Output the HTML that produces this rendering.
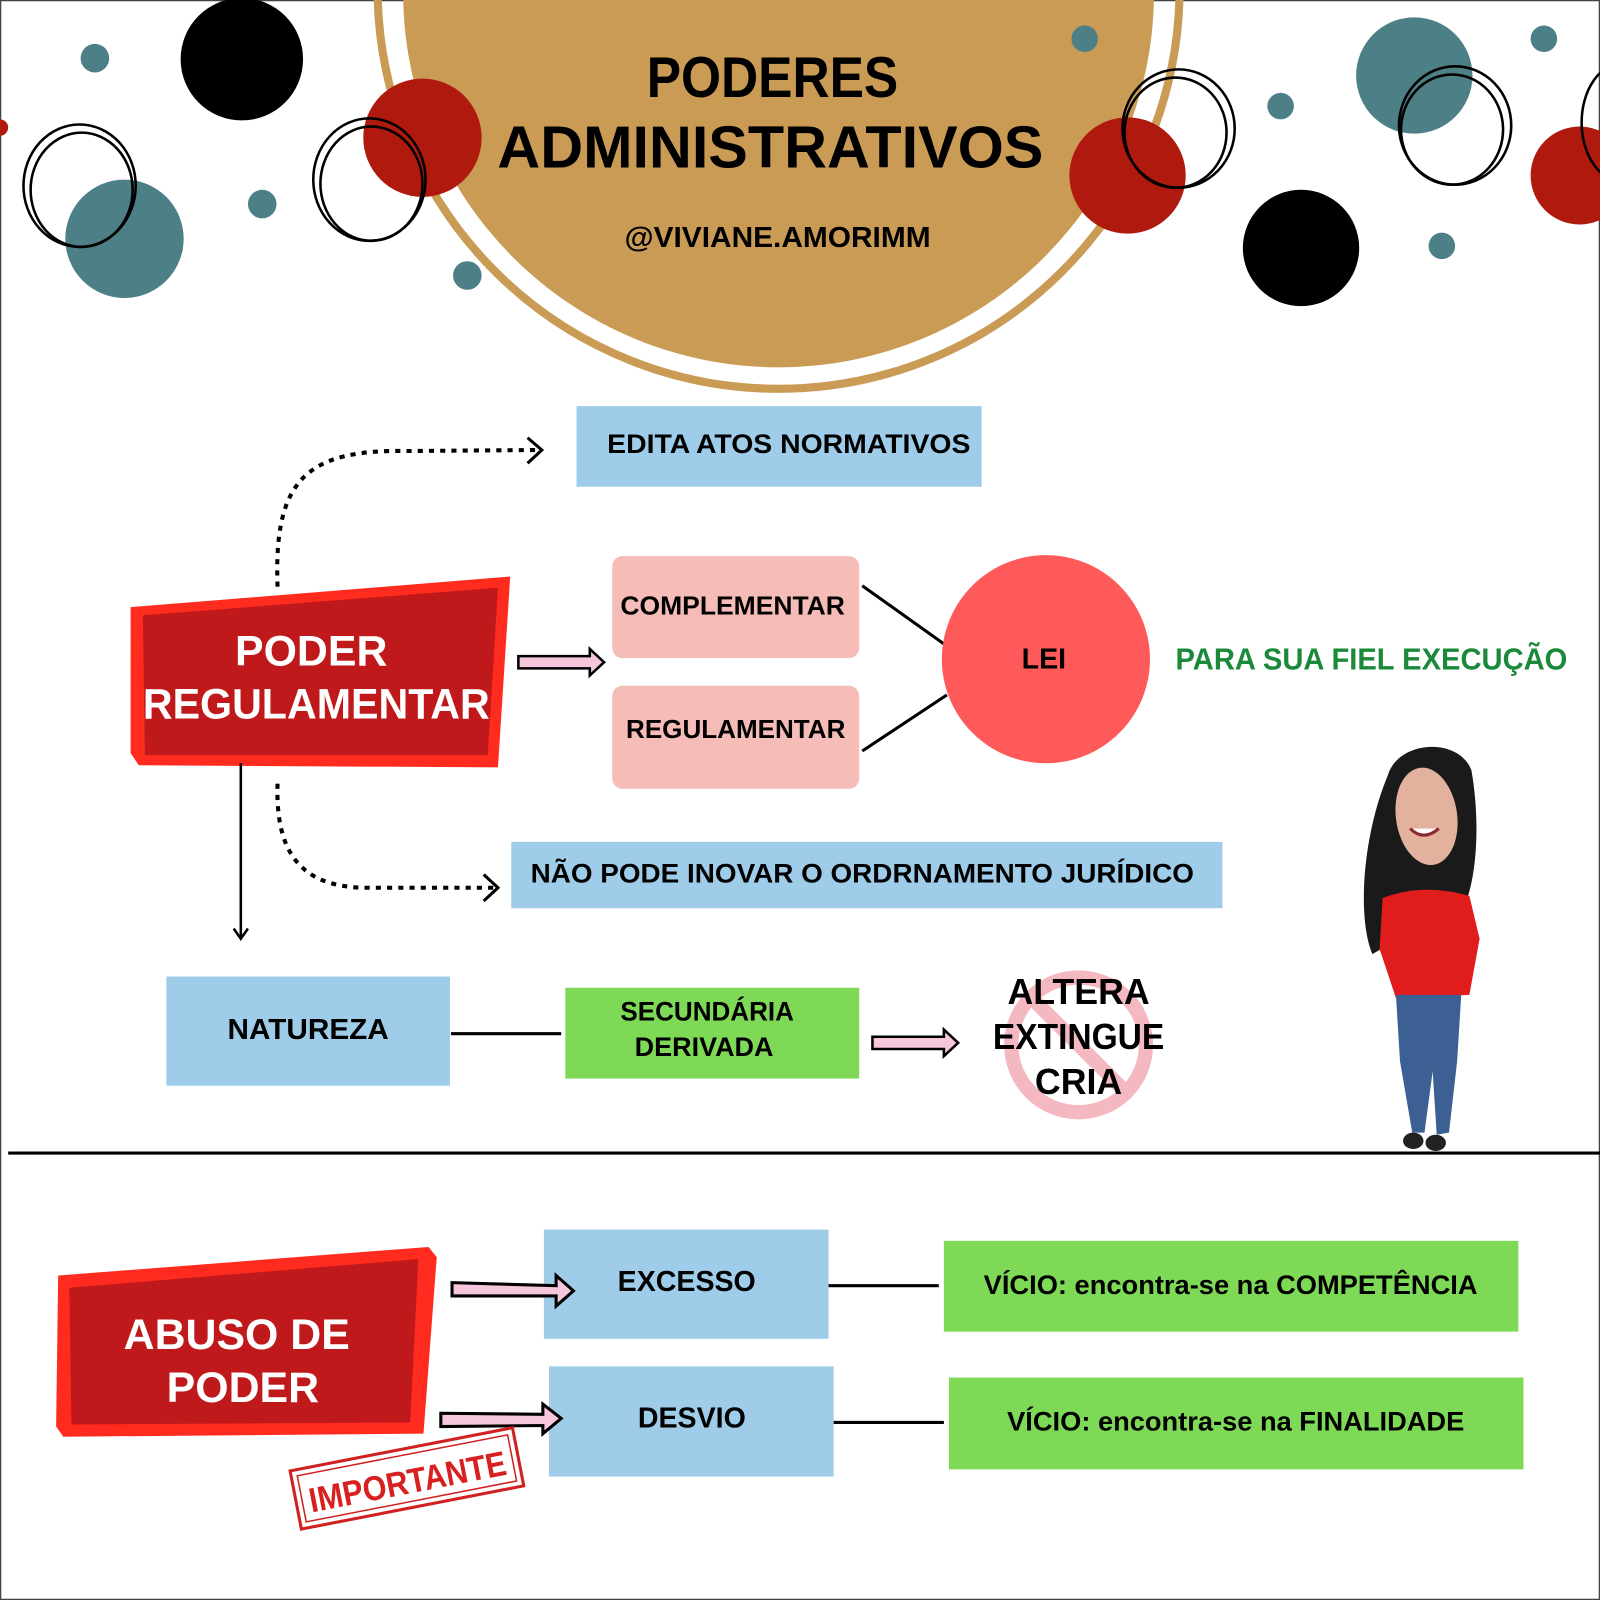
<!DOCTYPE html>
<html><head><meta charset="utf-8"><style>
html,body{margin:0;padding:0;background:#fff}
svg{display:block}
text{font-family:"Liberation Sans",sans-serif;font-weight:bold}
</style></head><body>
<svg width="1600" height="1600" viewBox="0 0 1568 1568" xmlns="http://www.w3.org/2000/svg">
<rect x="0" y="0" width="1568" height="1568" fill="#fff"/>
<rect x="0.5" y="0.5" width="1567" height="1567" fill="none" stroke="#444" stroke-width="1.5"/>
<!-- header -->
<circle cx="763" cy="-12" r="393" fill="none" stroke="#c99b55" stroke-width="8"/>
<circle cx="763" cy="-8" r="368" fill="#c99b55"/>
<!-- decorations -->
<g fill="#4d7f87">
<circle cx="93" cy="57" r="14"/><circle cx="257" cy="200" r="14"/><circle cx="458" cy="270" r="14"/>
<circle cx="1063" cy="38" r="13"/><circle cx="1255" cy="104" r="13"/><circle cx="1513" cy="38" r="13"/><circle cx="1413" cy="241" r="13"/>
<circle cx="122" cy="234" r="58"/><circle cx="1386" cy="74" r="57"/>
</g>
<circle cx="237" cy="58" r="60" fill="#000"/><circle cx="1275" cy="243" r="57" fill="#000"/>
<g fill="#b0190e">
<circle cx="414" cy="135" r="58"/><circle cx="1105" cy="172" r="57"/><circle cx="1548" cy="172" r="48"/><circle cx="0" cy="125" r="8"/>
</g>
<g fill="none" stroke="#000" stroke-width="2.5">
<ellipse cx="78" cy="182" rx="55" ry="60"/><ellipse cx="80" cy="186" rx="50" ry="56"/>
<ellipse cx="362" cy="176" rx="55" ry="60"/><ellipse cx="364" cy="180" rx="50" ry="56"/>
<ellipse cx="1155" cy="126" rx="55" ry="58"/><ellipse cx="1152" cy="130" rx="50" ry="54"/>
<ellipse cx="1426" cy="123" rx="55" ry="58"/><ellipse cx="1423" cy="127" rx="50" ry="54"/>
<ellipse cx="1590" cy="120" rx="40" ry="58"/>
</g>
<text x="757" y="95" font-size="56" text-anchor="middle" transform="translate(757 0) scale(0.9 1) translate(-757 0)">PODERES</text>
<text x="755" y="164" font-size="58" text-anchor="middle" textLength="535" lengthAdjust="spacingAndGlyphs">ADMINISTRATIVOS</text>
<text x="762" y="242" font-size="28" text-anchor="middle" textLength="300" lengthAdjust="spacingAndGlyphs">@VIVIANE.AMORIMM</text>

<!-- boxes -->
<rect x="565" y="398" width="397" height="79" fill="#9fcde9"/>
<text x="773" y="444" font-size="26" text-anchor="middle" textLength="356" lengthAdjust="spacingAndGlyphs">EDITA ATOS NORMATIVOS</text>
<path d="M272 575 C268 470 300 440 400 442 L528 441" fill="none" stroke="#000" stroke-width="4" stroke-dasharray="5 6"/>
<path d="M517 429 L531 441 L517 454" fill="none" stroke="#000" stroke-width="3"/>

<polygon points="128,595 500,565 488,752 136,750 128,738" fill="#ff2b1f"/>
<polygon points="140,603 488,576 478,740 142,740" fill="#c0191b"/>
<text x="305" y="652" font-size="42" fill="#fff" text-anchor="middle">PODER</text>
<text x="310" y="704" font-size="42" fill="#fff" text-anchor="middle" textLength="340" lengthAdjust="spacingAndGlyphs">REGULAMENTAR</text>

<g id="pa">
<polygon points="508,643 578,643 578,636 592,649 578,662 578,655 508,655" fill="#f6c6dc" stroke="#000" stroke-width="2.5"/>
</g>

<rect x="600" y="545" width="242" height="100" rx="10" fill="#f5bcb8"/>
<rect x="600" y="672" width="242" height="101" rx="10" fill="#f5bcb8"/>
<text x="718" y="602" font-size="25" text-anchor="middle" textLength="220" lengthAdjust="spacingAndGlyphs">COMPLEMENTAR</text>
<text x="721" y="723" font-size="25" text-anchor="middle" textLength="215" lengthAdjust="spacingAndGlyphs">REGULAMENTAR</text>
<line x1="845" y1="574" x2="925" y2="631" stroke="#000" stroke-width="3"/>
<line x1="845" y1="736" x2="928" y2="681" stroke="#000" stroke-width="3"/>
<circle cx="1025" cy="646" r="102" fill="#ff5a5a"/>
<text x="1023" y="655" font-size="28" text-anchor="middle">LEI</text>
<text x="1344" y="656" font-size="30" fill="#1a8a3a" text-anchor="middle" textLength="384" lengthAdjust="spacingAndGlyphs">PARA SUA FIEL EXECUÇÃO</text>

<path d="M272 768 C270 830 290 870 360 870 L485 870" fill="none" stroke="#000" stroke-width="4" stroke-dasharray="5 6"/>
<path d="M474 857 L488 870 L474 883" fill="none" stroke="#000" stroke-width="3"/>
<line x1="236" y1="748" x2="236" y2="918" stroke="#000" stroke-width="2.5"/>
<path d="M229 910 L236 920 L243 910" fill="none" stroke="#000" stroke-width="2.5"/>

<rect x="501" y="825" width="697" height="65" fill="#9fcde9"/>
<text x="845" y="865" font-size="26" text-anchor="middle" textLength="650" lengthAdjust="spacingAndGlyphs">NÃO PODE INOVAR O ORDRNAMENTO JURÍDICO</text>

<rect x="163" y="957" width="278" height="107" fill="#9fcde9"/>
<text x="302" y="1018" font-size="28" text-anchor="middle" textLength="158" lengthAdjust="spacingAndGlyphs">NATUREZA</text>
<line x1="442" y1="1013" x2="550" y2="1013" stroke="#000" stroke-width="3"/>
<rect x="554" y="968" width="288" height="89" fill="#7ed957"/>
<text x="693" y="1000" font-size="26" text-anchor="middle" textLength="170" lengthAdjust="spacingAndGlyphs">SECUNDÁRIA</text>
<text x="690" y="1035" font-size="26" text-anchor="middle" textLength="136" lengthAdjust="spacingAndGlyphs">DERIVADA</text>
<use href="#pa" transform="translate(347 373)"/>

<circle cx="1057" cy="1024" r="66" fill="none" stroke="#f4b8c0" stroke-width="14"/>
<line x1="1010" y1="977" x2="1104" y2="1071" stroke="#f4b8c0" stroke-width="14"/>
<text x="1057" y="984" font-size="35" text-anchor="middle">ALTERA</text>
<text x="1057" y="1028" font-size="35" text-anchor="middle" textLength="168" lengthAdjust="spacingAndGlyphs">EXTINGUE</text>
<text x="1057" y="1072" font-size="35" text-anchor="middle">CRIA</text>

<line x1="8" y1="1130" x2="1568" y2="1130" stroke="#000" stroke-width="3"/>

<!-- woman -->
<g>
<path d="M1360 760 C1370 725 1430 722 1442 755 C1450 800 1448 850 1438 880 L1345 935 C1330 900 1335 820 1360 760Z" fill="#1a1a1a"/>
<ellipse cx="1398" cy="800" rx="30" ry="48" fill="#e3b29e" transform="rotate(-8 1398 800)"/>
<path d="M1382 812 Q1395 825 1410 812" fill="#fff" stroke="#8a2a30" stroke-width="3"/>
<path d="M1355 880 Q1395 865 1440 878 L1450 920 L1440 975 L1368 978 L1352 930Z" fill="#e01c1c"/>
<path d="M1368 975 L1432 975 L1428 1040 L1420 1110 L1408 1112 L1404 1050 L1396 1110 L1384 1110 L1372 1040Z" fill="#3c5f94"/>
<ellipse cx="1385" cy="1118" rx="10" ry="8" fill="#222"/><ellipse cx="1407" cy="1120" rx="10" ry="8" fill="#222"/>
</g>

<!-- abuso -->
<polygon points="57,1250 420,1222 428,1232 415,1405 62,1408 55,1398" fill="#ff2b1f"/>
<polygon points="68,1262 410,1234 402,1394 70,1396" fill="#c0191b"/>
<text x="232" y="1322" font-size="42" fill="#fff" text-anchor="middle">ABUSO DE</text>
<text x="238" y="1374" font-size="42" fill="#fff" text-anchor="middle">PODER</text>

<rect x="533" y="1205" width="279" height="107" fill="#9fcde9"/>
<text x="673" y="1265" font-size="28" text-anchor="middle">EXCESSO</text>
<rect x="538" y="1339" width="279" height="108" fill="#9fcde9"/>
<text x="678" y="1399" font-size="28" text-anchor="middle">DESVIO</text>
<polygon points="443,1257 545,1260 545,1250 562,1265 545,1280 545,1270 443,1270" fill="#f6c6dc" stroke="#000" stroke-width="3"/>
<polygon points="432,1385 532,1386 532,1376 550,1390 532,1405 532,1397 432,1398" fill="#f6c6dc" stroke="#000" stroke-width="3"/>
<line x1="812" y1="1260" x2="920" y2="1260" stroke="#000" stroke-width="3"/>
<line x1="817" y1="1394" x2="925" y2="1394" stroke="#000" stroke-width="3"/>
<rect x="925" y="1216" width="563" height="89" fill="#7ed957"/>
<text x="1206" y="1268" font-size="26" text-anchor="middle" textLength="484" lengthAdjust="spacingAndGlyphs">VÍCIO: encontra-se na COMPETÊNCIA</text>
<rect x="930" y="1350" width="563" height="90" fill="#7ed957"/>
<text x="1211" y="1402" font-size="26" text-anchor="middle" textLength="448" lengthAdjust="spacingAndGlyphs">VÍCIO: encontra-se na FINALIDADE</text>

<g transform="rotate(-11 398 1450)">
<rect x="288" y="1420" width="222" height="58" fill="none" stroke="#d02020" stroke-width="3"/>
<rect x="294" y="1426" width="210" height="46" fill="none" stroke="#d02020" stroke-width="1.5"/>
<text x="399" y="1464" font-size="34" fill="#d82020" text-anchor="middle" textLength="196" lengthAdjust="spacingAndGlyphs">IMPORTANTE</text>
</g>
</svg>
</body></html>
